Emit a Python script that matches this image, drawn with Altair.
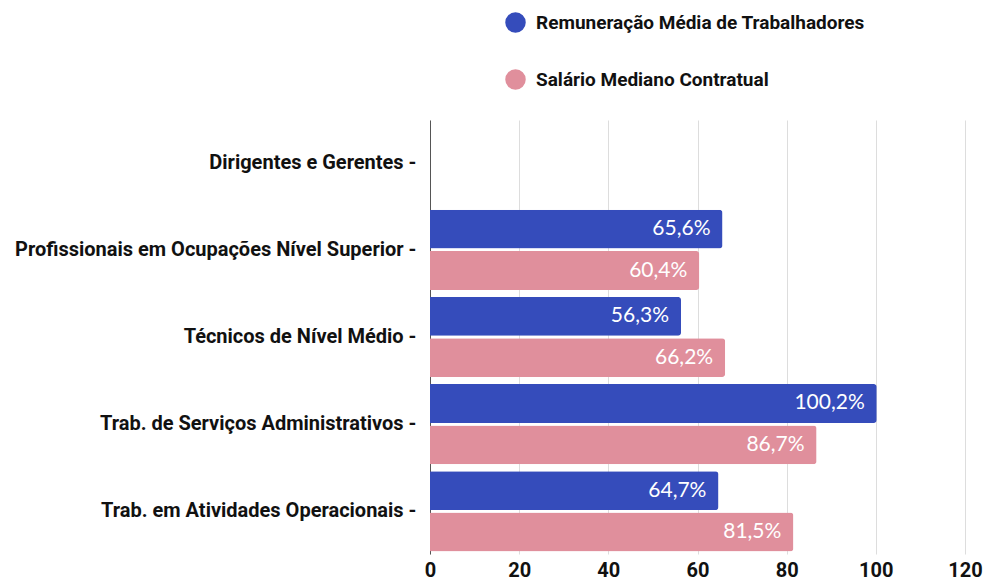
import altair as alt
import pandas as pd

categorias = [
    "Dirigentes e Gerentes",
    "Profissionais em Ocupações Nível Superior",
    "Técnicos de Nível Médio",
    "Trab. de Serviços Administrativos",
    "Trab. em Atividades Operacionais",
]
series = ["Remuneração Média de Trabalhadores", "Salário Mediano Contratual"]
remuneracao = [None, 65.6, 56.3, 100.2, 64.7]
salario = [None, 60.4, 66.2, 86.7, 81.5]
cores = ["#354CBB", "#E08F9C"]

rows = []
for c, r, s in zip(categorias, remuneracao, salario):
    if r is not None:
        rows.append({"cat": c, "serie": series[0], "valor": r})
    if s is not None:
        rows.append({"cat": c, "serie": series[1], "valor": s})
df = pd.DataFrame(rows)
df["rotulo"] = df["valor"].map(lambda v: f"{v:.1f}".replace(".", ",") + "%")

yenc = alt.Y(
    "cat:N",
    scale=alt.Scale(domain=categorias, paddingInner=0.08, paddingOuter=0.03),
    axis=alt.Axis(
        title=None,
        ticks=False,
        labelPadding=14,
        labelLimit=600,
        labelFont="Roboto",
        labelFontWeight="bold",
        labelFontSize=20,
        labelColor="#111111",
        labelExpr="datum.label + ' -'",
        domain=True,
        domainColor="#555555",
        minExtent=419,
        maxExtent=419,
        grid=False,
    ),
)

xscale = alt.Scale(domain=[0, 120], nice=False)

base = alt.Chart(df).encode(
    y=yenc,
    yOffset=alt.YOffset("serie:N", sort=series, scale=alt.Scale(paddingInner=0.06)),
)

bars = base.mark_bar(cornerRadiusEnd=3).encode(
    x=alt.X(
        "valor:Q",
        scale=xscale,
        axis=alt.Axis(
            title=None,
            values=[0, 20, 40, 60, 80, 100, 120],
            ticks=False,
            domain=False,
            labelFlush=False,
            labelFont="Roboto",
            labelFontWeight="bold",
            labelFontSize=20,
            labelColor="#111111",
            labelPadding=6,
            gridColor="#dddddd",
        ),
    ),
    color=alt.Color(
        "serie:N",
        sort=series,
        scale=alt.Scale(domain=series, range=cores),
        legend=alt.Legend(
            title=None,
            orient="none",
            legendX=75,
            legendY=-108,
            direction="vertical",
            symbolType="circle",
            symbolSize=420,
            symbolStrokeWidth=0,
            labelFont="Roboto",
            labelFontWeight="bold",
            labelFontSize=19,
            labelColor="#111111",
            labelLimit=600,
            rowPadding=36,
            labelOffset=10,
        ),
    ),
)

labels = base.mark_text(
    align="right", baseline="middle", dx=-12, color="white",
    font="Lato", fontSize=21,
).encode(
    x=alt.X("valor:Q", scale=xscale),
    text="rotulo:N",
)

chart = (bars + labels).properties(
    width=535, height=434, padding={"left": 3, "top": 4, "right": 0, "bottom": 0}
).configure_view(stroke=None)

chart.save("out.html", embed_options={"renderer": "svg", "actions": False})
